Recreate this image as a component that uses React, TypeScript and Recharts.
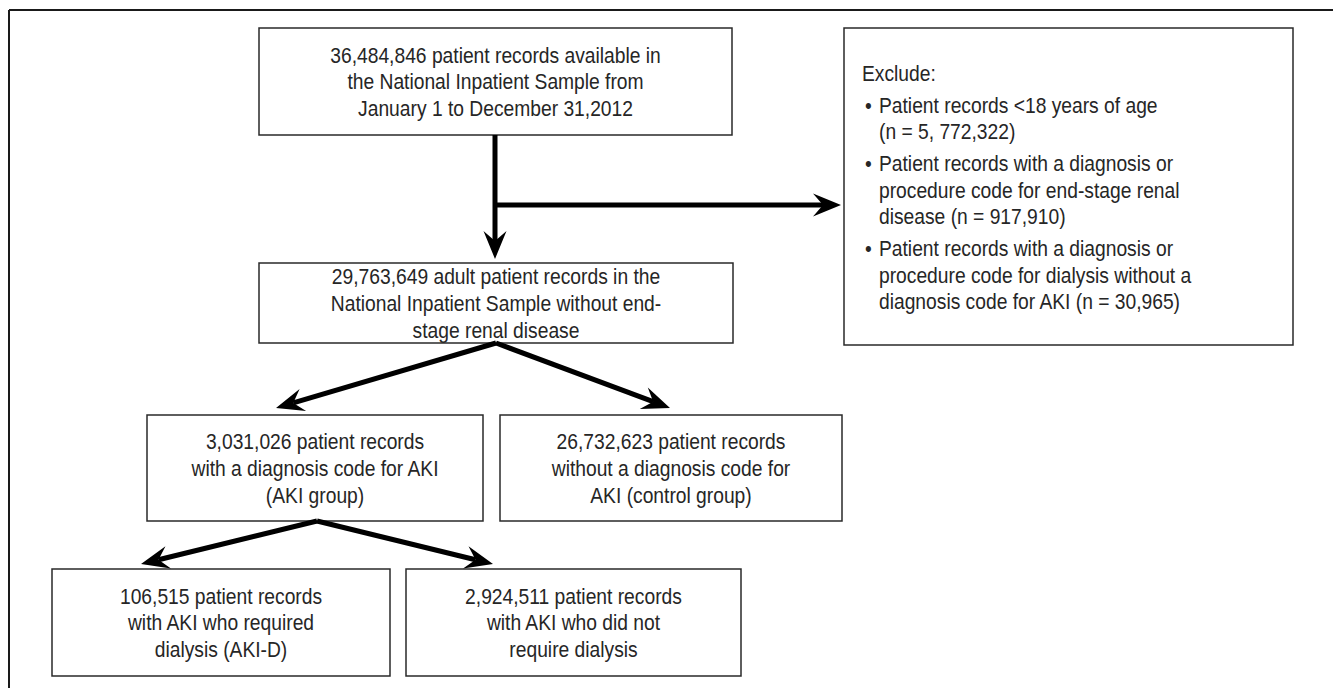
import { ComposedChart, XAxis, YAxis, ReferenceArea, ReferenceLine, Scatter } from "recharts";

const FONT = "'Liberation Sans', Arial, Helvetica, sans-serif";
const INK = "#262626";
const SX = 0.875; // condensed face: squeeze glyphs horizontally

// box texts
const sourceText = [
  "36,484,846 patient records available in",
  "the National Inpatient Sample from",
  "January 1 to December 31,2012",
];
const adultText = [
  "29,763,649 adult patient records in the",
  "National Inpatient Sample without end-",
  "stage renal disease",
];
const akiText = ["3,031,026 patient records", "with a diagnosis code for AKI", "(AKI group)"];
const controlText = ["26,732,623 patient records", "without a diagnosis code for", "AKI (control group)"];
const akiDText = ["106,515 patient records", "with AKI who required", "dialysis (AKI-D)"];
const noDialysisText = ["2,924,511 patient records", "with AKI who did not", "require dialysis"];

const excludeTitle = "Exclude:";
const excludeItems = [
  ["Patient records <18 years of age", "(n = 5, 772,322)"],
  ["Patient records with a diagnosis or", "procedure code for end-stage renal", "disease (n = 917,910)"],
  ["Patient records with a diagnosis or", "procedure code for dialysis without a", "diagnosis code for AKI (n = 30,965)"],
];

// box extents in figure units: [x1, x2, y1, y2]
const boxes: { id: string; extent: number[]; lines: string[] }[] = [
  { id: "source", extent: [259, 732, 28, 135], lines: sourceText },
  { id: "adult", extent: [259, 733, 263, 343], lines: adultText },
  { id: "aki", extent: [147, 483, 415, 521], lines: akiText },
  { id: "control", extent: [500, 842, 415, 521], lines: controlText },
  { id: "akiD", extent: [52, 390, 569, 676], lines: akiDText },
  { id: "noDialysis", extent: [406, 741, 569, 676], lines: noDialysisText },
];
const excludeBox = [844, 1293, 28, 345];

// arrows: [from, to]
const arrows: [number, number][][] = [
  [[495, 135], [495, 259]],
  [[495, 205], [841, 205]],
  [[496, 343], [276, 408]],
  [[496, 343], [670, 408]],
  [[317, 521], [141, 564]],
  [[317, 521], [493, 564]],
];

// frame (open at right and bottom)
const frame: [number, number][][] = [
  [[9, 10], [1333, 10]],
  [[9, 10], [9, 688]],
];

// anchor points that span the figure grid
const anchors = [
  { x: 0, y: 0 },
  { x: 1333, y: 688 },
];

const FS = 22;
const LH = 26.7;

const centeredLabel = (lines: string[]) => (props: any) => {
  const { x, y, width, height } = props.viewBox;
  const cx = x + width / 2;
  const top = y + height / 2 - ((lines.length - 1) * LH) / 2 + FS * 0.36;
  return (
    <text
      transform={`translate(${cx} 0) scale(${SX} 1)`}
      textAnchor="middle"
      fontFamily={FONT}
      fontSize={FS}
      fill={INK}
    >
      {lines.map((l, i) => (
        <tspan key={i} x={0} y={top + i * LH}>
          {l}
        </tspan>
      ))}
    </text>
  );
};

const excludeLabel = (props: any) => {
  const { x, y } = props.viewBox;
  const left = x + 35;
  const out: any[] = [];
  let cy = y + 45;
  out.push(
    <tspan key="t" x={(x + 18 - left) / SX} y={cy + FS * 0.36}>
      {excludeTitle}
    </tspan>
  );
  excludeItems.forEach((item, i) => {
    cy += 32;
    item.forEach((l, j) => {
      if (j > 0) cy += 26.5;
      if (j === 0)
        out.push(
          <tspan key={`b${i}`} x={(x + 21 - left) / SX} y={cy + FS * 0.36}>
            •
          </tspan>
        );
      out.push(
        <tspan key={`l${i}-${j}`} x={0} y={cy + FS * 0.36}>
          {l}
        </tspan>
      );
    });
  });
  return (
    <text transform={`translate(${left} 0) scale(${SX} 1)`} fontFamily={FONT} fontSize={FS} fill={INK}>
      {out}
    </text>
  );
};

const ArrowLine = (props: any) => {
  const { x1, y1, x2, y2 } = props;
  const dx = x2 - x1;
  const dy = y2 - y1;
  const len = Math.hypot(dx, dy);
  const ux = dx / len;
  const uy = dy / len;
  const px = -uy;
  const py = ux;
  const L = 28;
  const W = 11.5;
  const N = 18;
  const bx = x2 - ux * L;
  const by = y2 - uy * L;
  const nx = x2 - ux * N;
  const ny = y2 - uy * N;
  return (
    <g>
      <line x1={x1} y1={y1} x2={nx} y2={ny} stroke="#000" strokeWidth={5} />
      <polygon
        points={`${x2},${y2} ${bx + px * W},${by + py * W} ${nx},${ny} ${bx - px * W},${by - py * W}`}
        fill="#000"
      />
    </g>
  );
};

export default function App() {
  return (
    <div style={{ position: "absolute", left: 0, top: 0, background: "#fff" }}>
      <ComposedChart width={1333} height={688} margin={{ top: 0, right: 0, bottom: 0, left: 0 }}>
        <XAxis type="number" dataKey="x" domain={[0, 1333]} allowDataOverflow hide />
        <YAxis type="number" dataKey="y" domain={[0, 688]} allowDataOverflow reversed hide />
        <Scatter data={anchors} dataKey="y" fill="none" shape={() => <g />} isAnimationActive={false} />
        {frame.map((seg, i) => (
          <ReferenceLine
            key={`f${i}`}
            segment={seg.map(([x, y]) => ({ x, y }))}
            stroke="#1a1a1a"
            strokeWidth={2}
            ifOverflow="visible"
          />
        ))}
        {boxes.map((b) => (
          <ReferenceArea
            key={b.id}
            x1={b.extent[0]}
            x2={b.extent[1]}
            y1={b.extent[2]}
            y2={b.extent[3]}
            fill="#fff"
            fillOpacity={1}
            stroke="#2a2a2a"
            strokeWidth={1.5}
            ifOverflow="visible"
            label={centeredLabel(b.lines)}
          />
        ))}
        <ReferenceArea
          x1={excludeBox[0]}
          x2={excludeBox[1]}
          y1={excludeBox[2]}
          y2={excludeBox[3]}
          fill="#fff"
          fillOpacity={1}
          stroke="#2a2a2a"
          strokeWidth={1.5}
          ifOverflow="visible"
          label={excludeLabel}
        />
        {arrows.map((seg, i) => (
          <ReferenceLine
            key={`a${i}`}
            segment={seg.map(([x, y]) => ({ x, y }))}
            shape={ArrowLine}
            ifOverflow="visible"
          />
        ))}
      </ComposedChart>
    </div>
  );
}
